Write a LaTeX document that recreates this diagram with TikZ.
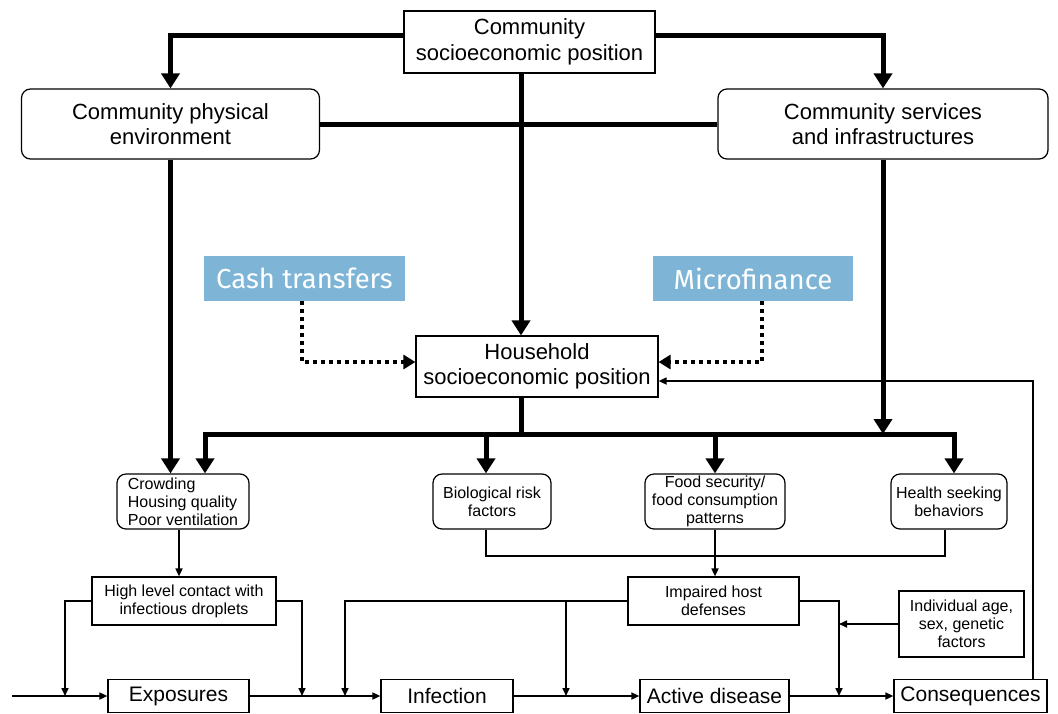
\documentclass[tikz,border=0pt]{standalone}
\usepackage{fontspec}
\setmainfont{Liberation Sans}
\newfontfamily\bluefont{Fira Sans}
\usetikzlibrary{arrows.meta,calc}
\definecolor{blueb}{HTML}{7EB5D6}
\begin{document}
\begin{tikzpicture}[x=1pt,y=-1pt,
  bigtxt/.style={font=\fontsize{22}{25.5}\selectfont},
  midtxt/.style={font=\fontsize{21}{25}\selectfont},
  smalltxt/.style={font=\fontsize{16}{18}\selectfont},
  sqbox/.style={draw, line width=1.2pt, align=center, inner sep=0pt},
  rbox/.style={sqbox, rounded corners=9pt},
  bluebox/.style={fill=blueb, text=white, inner sep=0pt, font=\bluefont\fontsize{27.5}{30}\selectfont},
  thickline/.style={line width=5pt},
  thickarr/.style={line width=5pt, -{Triangle[width=18pt,length=15pt]}},
  thinline/.style={line width=1.6pt},
  thinarr/.style={line width=1.6pt, -{Triangle[width=7pt,length=8pt]}},
  dotarr/.style={line width=4pt, dash pattern=on 4pt off 4pt, -{Triangle[width=14pt,length=12pt]}}
]
\useasboundingbox (0,0) rectangle (1058,713);

% nodes
\node[sqbox, bigtxt, minimum width=251pt, minimum height=62pt] (top) at (529.5,42) {Community\\socioeconomic position};
\node[rbox, bigtxt, minimum width=298pt, minimum height=70pt] (phys) at (170.5,124) {Community physical\\environment};
\node[rbox, bigtxt, minimum width=330pt, minimum height=70pt] (serv) at (883,124) {Community services\\and infrastructures};
\node[bluebox, minimum width=201pt, minimum height=45pt] (cash) at (304.5,278.5) {Cash transfers};
\node[bluebox, minimum width=200pt, minimum height=45pt] (micro) at (753,278.5) {Microfinance};
\node[sqbox, bigtxt, minimum width=242pt, minimum height=61pt] (hh) at (537,366.5) {Household\\socioeconomic position};

\node[rbox, smalltxt, align=left, minimum width=132pt, minimum height=55pt] (crowd) at (183,501.5) {Crowding\\Housing quality\\Poor ventilation};
\node[rbox, smalltxt, minimum width=118pt, minimum height=55pt] (bio) at (492,501.5) {Biological risk\\factors};
\node[rbox, smalltxt, minimum width=140pt, minimum height=55pt] (food) at (715,501.5) {Food security/\\food consumption\\patterns};
\node[rbox, smalltxt, minimum width=116pt, minimum height=55pt] (health) at (949,501.5) {Health seeking\\behaviors};

\node[sqbox, smalltxt, minimum width=184pt, minimum height=48pt] (high) at (184,601) {High level contact with\\infectious droplets};
\node[sqbox, smalltxt, minimum width=171pt, minimum height=48pt] (impaired) at (713.5,601) {Impaired host\\defenses};
\node[sqbox, smalltxt, minimum width=125pt, minimum height=66pt] (indiv) at (961.5,624) {Individual age,\\sex, genetic\\factors};

\node[sqbox, midtxt, minimum width=141pt, minimum height=33pt] (expo) at (178.5,696) {Exposures};
\node[sqbox, midtxt, minimum width=132pt, minimum height=33pt] (infect) at (447,696) {Infection};
\node[sqbox, midtxt, minimum width=149pt, minimum height=33pt] (active) at (714.5,696) {Active disease};
\node[sqbox, midtxt, minimum width=153pt, minimum height=33pt] (conseq) at (970.5,696) {Consequences};

% thick connectors
\draw[thickline] (phys.east) -- (serv.west);
\draw[thickarr] ([yshift=7pt]top.west) -| (phys.north);
\draw[thickarr] ([yshift=7pt]top.east) -| (serv.north);
\draw[thickarr] ([xshift=-8.5pt]top.south) -- ([xshift=-8.5pt]top.south |- hh.north);
\draw[thickarr] (phys.south) -- (phys.south |- crowd.north);

\coordinate (bl) at (205,434);
\coordinate (br) at (954,434);
\coordinate (bm) at (521,434);
\draw[thickline] ([xshift=-16pt]hh.south) -- (bm);
\draw[thickarr] (bm) -- (bl) -- (bl |- crowd.north);
\draw[thickarr] (bm) -- (br) -- (br |- health.north);
\draw[thickarr] (serv.south) -- (serv.south |- bl);
\draw[thickarr] ([xshift=-6pt]bio.north |- bl) -- ([xshift=-6pt]bio.north);
\draw[thickarr] (food.north |- bl) -- (food.north);

% dotted
\draw[dotarr] ([xshift=-2.5pt]cash.south) |- ([yshift=4.5pt]hh.west);
\draw[dotarr] ([xshift=9pt]micro.south) |- ([yshift=4.5pt]hh.east);

% thin connectors
\coordinate (fb) at (0,556);
\draw[thinarr] ([xshift=-4pt]crowd.south) -- ([xshift=-4pt]crowd.south |- high.north);
\draw[thinline] ([xshift=-6pt]bio.south) |- ([xshift=-4pt]health.south |- fb) -- ([xshift=-4pt]health.south);
\draw[thinarr] (food.south) -- (food.south |- impaired.north);

\coordinate (start) at (12,696);
\coordinate (ja) at (65,696);
\coordinate (jb) at (302,696);
\coordinate (jc) at (345,696);
\coordinate (jd) at (566,696);
\coordinate (je) at (839,696);
\draw[thinarr] (start) -- (expo.west);
\draw[thinarr] (expo.east) -- (infect.west);
\draw[thinarr] (infect.east) -- (active.west);
\draw[thinarr] (active.east) -- (conseq.west);
\draw[thinarr] (high.west) -| (ja);
\draw[thinarr] (high.east) -| (jb);
\draw[thinarr] (impaired.west) -| (jc);
\draw[thinarr] (jd |- impaired.west) -- (jd);
\draw[thinarr] (impaired.east) -| (je);
\draw[thinarr] (indiv.west) -- (indiv.west -| je);
\draw[thinarr] ([xshift=62.5pt]conseq.north) |- ([yshift=-14.5pt]hh.east);
\end{tikzpicture}
\end{document}
